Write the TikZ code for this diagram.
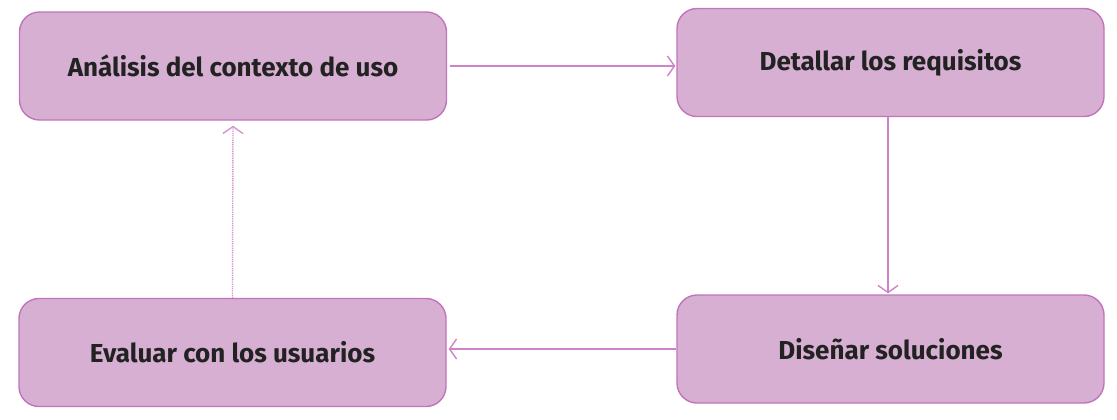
\documentclass[tikz,border=0pt]{standalone}
\usepackage{fontspec}
\setmainfont{Fira Sans}
\usetikzlibrary{arrows.meta}
\definecolor{boxfill}{HTML}{D6AFD3}
\definecolor{boxline}{HTML}{C274BA}
\definecolor{arrowcol}{HTML}{CF82C7}
\definecolor{txt}{HTML}{222222}
\begin{document}
\begin{tikzpicture}[x=1pt,y=-1pt,
  stage/.style={draw=boxline, fill=boxfill, line width=1.4pt, rounded corners=20pt,
    minimum width=427pt, minimum height=108pt, inner sep=0pt,
    font=\fontsize{26}{30}\selectfont\bfseries, text=txt},
  flow/.style={draw=arrowcol, line width=1.4pt, -{Straight Barb[length=7pt,width=20pt,line width=1.4pt]}},
  dotflow/.style={draw=arrowcol!85, line width=1.4pt, dash pattern=on 1pt off 0.8pt,
    -{Straight Barb[length=7pt,width=20pt,line width=1.4pt]}}]
\useasboundingbox (0,0) rectangle (1117,420);
\node[stage] (n1) at (233,66) {Análisis del contexto de uso};
\node[stage] (n2) at (890.5,62.5) {Detallar los requisitos};
\node[stage] (n3) at (890.5,349) {Diseñar soluciones};
\node[stage] (n4) at (232.5,352.5) {Evaluar con los usuarios};
\draw[flow, shorten <=3pt, shorten >=1pt] (n1.east) -- (n1.east -| n2.west);
\draw[flow, shorten >=1pt] (n2.south -| 888,0) -- (888,0 |- n3.north);
\draw[flow, shorten >=2pt] (n3.west) -- (n3.west -| n4.east);
\draw[dotflow, shorten >=5pt] (n4.north) -- (n1.south);
\end{tikzpicture}
\end{document}
